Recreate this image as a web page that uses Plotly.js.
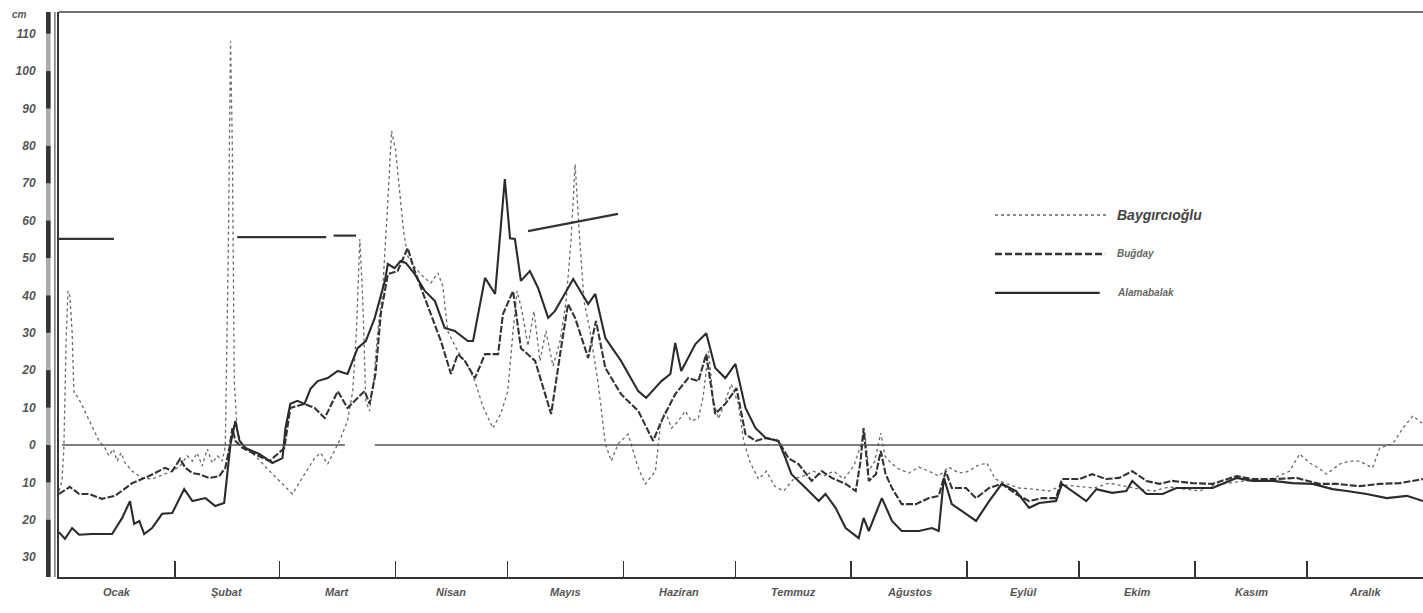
<!DOCTYPE html>
<html><head><meta charset="utf-8">
<script src="https://cdn.plot.ly/plotly-3.0.1.min.js"></script>
<style>html,body{margin:0;padding:0;background:#fff}#chart{width:1423px;height:613px}</style>
</head><body><div id="chart"></div>
<script>
// Month names and month start days (day of year)
const monthNames = ["Ocak","Şubat","Mart","Nisan","Mayıs","Haziran","Temmuz","Ağustos","Eylül","Ekim","Kasım","Aralık"];
const monthStarts = [0,31,59,90,120,151,181,212,243,273,304,334,365];
// y ticks (cm); labels shown without sign
const yTicks = [-30,-20,-10,0,10,20,30,40,50,60,70,80,90,100,110];
const seriesNames = ["Baygırcıoğlu","Buğday","Alamabalak"];

// Alamabalak (solid)
const solidDays = [0,1.6,3.5,5.4,8.8,14.2,16.9,19.0,20.1,21.5,22.8,24.9,27.6,30.3,33.5,35.7,39.2,41.8,44.2,45.1,45.9,47.2,48.3,49.9,53.6,57.1,59.8,60.6,61.9,63.8,65.7,67.3,69.2,71.9,74.6,77.2,79.9,82.1,84.5,87.2,88,89.8,91.4,92.8,95.2,97.9,100.6,103.2,105.9,109.4,110.8,114,116.7,119.3,120.7,122,123.6,126,128.2,130.9,132.7,137.6,141.6,143.5,146.2,150.4,155,157.1,161.2,163.6,164.9,166.5,170.3,173.2,175.6,178.3,181,183.7,186.4,189.1,192.5,194.4,196,199.8,203.3,205.1,207.8,210.5,214,215.3,216.7,220.2,222.9,225.5,230.1,233.6,235.4,236.8,238.9,242.7,245.4,248.9,252.3,256.1,259.6,262.3,266.8,268.4,271.1,274.9,277.6,281.8,285.6,287.2,291,295.3,299,303.3,308.7,315.1,319.4,324.8,330.1,335.5,340.8,344.6,349.9,355.3,360.7,365];
const solidCm = [-23.3,-25.1,-22.2,-24,-23.8,-23.8,-19.5,-15,-21.1,-20.3,-23.8,-22.2,-18.4,-18.2,-11.8,-15,-14.2,-16.3,-15.5,-7,0.3,6.4,1.1,-0.8,-2.4,-4.8,-3.5,4.5,11,11.8,11,15,17.1,17.9,19.8,19,25.9,27.8,34,43.9,48.4,47.3,49.2,48.7,45.7,41.2,38.5,31.3,30.5,27.8,27.8,44.7,40.4,71.1,55.3,55.1,43.9,46.5,42,34,35.8,44.4,37.7,40.4,28.6,22.5,14.4,12.6,17.1,19,27.3,19.8,27,29.9,20.6,17.9,21.7,9.9,4.5,1.9,1.1,-3.5,-7.8,-11.5,-15,-13.1,-16.8,-22.2,-24.9,-19.5,-23,-14.2,-20.3,-23,-23,-22.2,-23,-8.8,-15.8,-18.4,-20.3,-15,-10.4,-12.3,-16.8,-15.5,-15,-10.4,-12.3,-15,-11.8,-12.8,-12.3,-9.6,-13.1,-13.1,-11.5,-11.5,-11.5,-8.8,-9.6,-9.6,-10.2,-10.4,-11.8,-12.3,-13.1,-14.2,-13.6,-15];

// Buğday (dashed)
const dashDays = [0,2.9,5.4,8,11.5,15,19.6,24.1,28.4,30.3,32.4,33.8,35.7,37.5,40.2,42.9,44.5,45.6,46.4,47.2,49.1,52.6,56.3,58.5,60.3,61.9,65.7,68.4,71.1,74.6,77.2,79.9,81.8,83.1,84.7,86.1,88,90.6,93.3,95.2,96.8,99.5,102.2,104.9,106.7,108.6,111.3,114,117.5,118.8,121.5,123.6,127.4,131.7,134.1,136.2,138.1,141.6,143.7,146.2,150.4,155,159,161.2,164.9,168.4,171.1,173.2,175.6,178.3,181.3,183.7,186.4,189.1,192.5,195.2,197.9,201.4,204.1,206.8,210.5,213.2,214.5,215.3,216.7,218.6,219.9,221.2,222.9,225.5,229.3,232.8,235.4,237.3,238.9,242.7,245.4,248.9,252.3,256.1,259.6,263.1,266.8,268.4,273,276.5,280.2,283.7,287.2,291,294.4,297.9,303.3,308.7,315.1,319.4,325.8,331.2,337.3,341.9,348,353.4,358.8,365];
const dashCm = [-13.1,-11.2,-13.1,-13.1,-14.4,-13.6,-10.2,-8.3,-6.1,-7,-3.7,-6.1,-7.5,-7.8,-8.8,-8.3,-6.1,-0.8,4.5,1.1,-0.8,-2.4,-4.3,-2.4,-0.8,9.9,11,9.9,7.2,14.4,9.9,12.6,14.4,11,19,35,45.7,46.5,52.7,46.5,42,35,27.8,19,24.3,22.5,17.9,24.3,24.3,35,41.2,25.9,22.5,8.3,24.3,37.7,34,23.3,33.2,20.6,13.6,9.1,1.1,6.4,13.6,17.9,17.1,24.3,8.3,11,15.2,2.9,1.1,1.9,1.1,-3.5,-5.1,-9.6,-7,-8.8,-10.4,-12.3,-4.3,4.5,-9.6,-7.8,-1.6,-7.8,-11.5,-15.8,-15.8,-14.2,-13.6,-7,-11.5,-11.5,-14.2,-11.5,-10.4,-13.1,-15,-14.2,-14.2,-9.1,-9.1,-7.8,-9.1,-8.8,-7,-9.6,-10.4,-9.6,-10.2,-10.4,-8.3,-9.1,-9.1,-8.8,-10.4,-10.4,-11,-10.4,-10.2,-9.1];

// Baygırcıoğlu (dotted)
const dotDays = [0,0.8,1.3,1.9,2.4,2.9,3.5,4,4.8,5.9,7.5,9.1,10.7,12.3,13.4,14.5,15.6,16.6,17.7,19.6,22.3,24.9,27.6,30.3,32.4,34.3,35.7,37,38.3,39.7,41,42.4,43.7,44.5,45.3,45.9,46.4,46.9,47.7,49.1,51,53.1,55.8,58.5,61.1,62.5,64.6,66.5,68.4,70,71.9,73.7,75.4,77.2,78.6,79.6,80.5,81.3,82.1,83.1,84.2,85.3,86.6,88,89,90.1,91.2,92.2,93.3,94.9,97.3,99.5,101.4,102.7,104,106.7,109.4,111.3,113.4,116.1,118.3,120.1,121.5,122.6,123.9,125.5,127.1,128.7,130.3,132.2,134.1,135.7,137,138.1,139.2,140.5,142.1,144.3,146.2,147.8,149.6,152.3,155,156.9,159.6,160.9,162.2,163.9,165.7,167.6,169.2,171.1,172.4,173.8,175.1,176.5,178.3,179.9,181.8,183.2,185,187.2,189.3,191.5,193.9,196.6,199.2,201.9,204.6,207.3,210,212.7,214.5,215.6,216.7,218.3,219.9,221,222.6,224.7,227.4,230.1,232.8,235.4,238.1,240.8,243.5,245.6,248.3,250.5,253.7,256.9,260.9,264.9,269,273,277,281,285.1,289.1,293.1,297.1,301.2,305.2,309.2,313.2,317.2,321.3,325.3,329.3,332,334.7,337.4,339.2,342.7,345.4,348,351.5,353.4,356.9,359.6,362.3,365];
const dotCm = [-12.3,-9.6,-0.8,27.8,41.2,39.8,30.5,13.9,13.1,11.2,7.8,4.3,1.1,-0.8,-2.9,-1.1,-4.3,-2.1,-4.8,-7,-8.8,-9.1,-8,-7,-5.6,-2.9,-4.3,-2.1,-5.6,-1.1,-4.8,-2.9,-4.3,-0.3,51.9,108,78.6,17.1,3.7,-0.3,-1.6,-3.5,-6.4,-9.1,-11.8,-13.1,-9.6,-6.4,-3.5,-2.1,-5.1,-1.6,1.9,6.4,14.4,30.5,55.1,38.5,11.8,9.1,17.1,30.5,41.2,65.2,84,78.6,67.9,57.2,50.5,47.9,45.2,43.3,46,42.5,30.5,25.1,21.1,17.1,10.4,4.5,8.6,14.4,30.5,41.2,35.8,26.5,35.8,22.5,30.5,21.1,27.8,38.5,54.5,75.1,57.2,38.5,30.5,16.3,0.3,-4.3,0.3,2.9,-6.1,-10.4,-7,5.1,9.1,4.5,6.4,9.1,6.4,7.2,13.1,25.1,11.8,7,11.8,16.3,11,1.1,-4.8,-9.1,-7,-11,-12.3,-9.1,-8.3,-7,-8.3,-7,-9.1,-5.6,-0.3,3.7,-7,-4.3,3.2,-2.9,-4.8,-6.4,-7.5,-5.9,-7,-8.3,-5.9,-7.5,-7,-5.6,-4.8,-9.1,-10.4,-11.5,-11.8,-12.3,-10.7,-11.2,-11.5,-10.2,-11,-11.8,-12.3,-11.2,-11.8,-12.3,-10.7,-10.2,-9.6,-9.6,-8.8,-7,-2.4,-4.8,-6.4,-7.8,-5.1,-4.3,-4.3,-6.1,-0.8,0.3,4.5,7.8,5.6];

// Horizontal marks near 55-62 cm
const markDays = [0,14.7,null,47.7,71.5,null,73.5,79.5,null,125.5,149.6];
const markCm   = [55.1,55.1,null,55.6,55.6,null,56,56,null,57.2,61.8];

const ink = '#2b2b2b';
const traces = [
  {x: dotDays, y: dotCm, mode:'lines', name: seriesNames[0], line:{color:'#6a6a6a', width:1.3, dash:'dot'}},
  {x: dashDays, y: dashCm, mode:'lines', name: seriesNames[1], line:{color:'#333', width:2.1, dash:'7px,2px'}},
  {x: solidDays, y: solidCm, mode:'lines', name: seriesNames[2], line:{color:ink, width:2.1}},
  {x: markDays, y: markCm, mode:'lines', connectgaps:false, line:{color:'#333', width:2.2}, showlegend:false}
];

const shapes = [];
// zero line with gap
shapes.push({type:'line', xref:'x', yref:'y', x0:0.8, x1:76.5, y0:0, y1:0, line:{color:'#555', width:1.3}});
shapes.push({type:'line', xref:'x', yref:'y', x0:84.5, x1:365, y0:0, y1:0, line:{color:'#555', width:1.3}});
// top frame
shapes.push({type:'line', xref:'paper', yref:'paper', x0:0, x1:1, y0:1, y1:1, line:{color:'#444', width:1.5}});
// second vertical line left of axis
shapes.push({type:'line', xref:'paper', yref:'paper', x0:-0.003, x1:-0.003, y0:0, y1:1, line:{color:'#555', width:1.2}});
// graduated bar
const yMin = -35.3, yMax = 115.8;
shapes.push({type:'rect', xref:'paper', yref:'y', x0:-0.0095, x1:-0.0062, y0:yMin, y1:yMax, fillcolor:'#aaa', line:{width:0}});
for (let i = 0; i < yTicks.length; i++) {
  const v = yTicks[i];
  if (Math.abs(v/10) % 2 === 1) {
    shapes.push({type:'rect', xref:'paper', yref:'y', x0:-0.0095, x1:-0.0062, y0:v, y1:Math.min(v+10, yMax), fillcolor:'#333', line:{width:0}});
  }
}
shapes.push({type:'rect', xref:'paper', yref:'y', x0:-0.0095, x1:-0.0062, y0:yMin, y1:-30, fillcolor:'#333', line:{width:0}});

// legend samples
const legY = [0.6407, 0.5717, 0.5027];
const legX1 = [0.769, 0.767, 0.763];
const legDash = ['dot','7px,3px','solid'];
const legW = [1.4, 2.4, 2.2];
const legCol = ['#666','#333',ink];
const annotations = [];
for (let i = 0; i < 3; i++) {
  shapes.push({type:'line', xref:'paper', yref:'paper', x0:0.6862, x1:legX1[i], y0:legY[i], y1:legY[i], line:{color:legCol[i], width:legW[i], dash:legDash[i]}});
  annotations.push({xref:'paper', yref:'paper', x:0.774, y:legY[i], xanchor:'left', yanchor:'middle', showarrow:false,
    text: seriesNames[i], font:{family:'Liberation Sans, Arial', size: i===0 ? 14 : 10, style:'italic', weight:'bold', color: i===0 ? '#444' : '#666'}});
}
// month labels
for (let m = 0; m < 12; m++) {
  annotations.push({xref:'x', yref:'paper', x:(monthStarts[m]+monthStarts[m+1])/2, y:-0.027, xanchor:'center', yanchor:'middle', showarrow:false,
    text: monthNames[m], font:{family:'Liberation Sans, Arial', size:11, style:'italic', weight:'bold', color:'#555'}});
}
annotations.push({xref:'paper', yref:'paper', x:-0.029, y:0.995, xanchor:'center', yanchor:'middle', showarrow:false,
  text:'cm', font:{family:'Liberation Sans, Arial', size:10, style:'italic', weight:'bold', color:'#555'}});

const layout = {
  width:1423, height:613,
  margin:{l:59, r:0, t:12, b:36},
  paper_bgcolor:'#ffffff', plot_bgcolor:'#ffffff',
  showlegend:false,
  xaxis:{range:[0,365], showgrid:false, zeroline:false, showline:true, linecolor:'#333', linewidth:2,
    tickvals: monthStarts.slice(1,12), ticks:'inside', ticklen:16, tickwidth:1.5, tickcolor:'#333', showticklabels:false, fixedrange:true},
  yaxis:{range:[yMin,yMax], showgrid:false, zeroline:false, showline:true, linecolor:'#333', linewidth:2,
    tickvals: yTicks, ticktext: yTicks.map(v => String(Math.abs(v))), ticks:'outside', ticklen:19, tickcolor:'rgba(0,0,0,0)',
    tickfont:{family:'Liberation Sans, Arial', size:12, style:'italic', weight:'bold', color:'#555'}, fixedrange:true},
  shapes: shapes,
  annotations: annotations
};
Plotly.newPlot('chart', traces, layout, {displayModeBar:false, staticPlot:true});
</script>
</body></html>
